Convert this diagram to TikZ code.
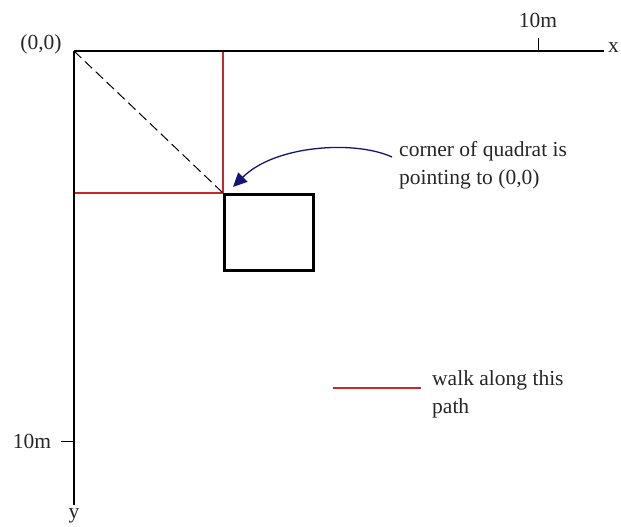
\documentclass[tikz,border=0pt]{standalone}
\usepackage{fontspec}
\setmainfont{Liberation Serif}
\usetikzlibrary{arrows.meta}
\definecolor{walkred}{RGB}{200,40,40}
\definecolor{arrownavy}{RGB}{20,20,120}
\begin{document}
\begin{tikzpicture}[x=1pt,y=-1pt,
  lbl/.style={font=\fontsize{21.5}{28}\selectfont, inner sep=1pt, text=black!85},
  axis/.style={draw=black, line width=1.3pt},
  walk/.style={draw=walkred, line width=1.1pt},
  quad/.style={draw=black, line width=2.6pt},
  diag/.style={draw=black, line width=1pt, dash pattern=on 10pt off 5pt},
  pointer/.style={draw=arrownavy, line width=1.3pt, -{Triangle[length=14pt,width=13pt]}}]
\useasboundingbox (0,0) rectangle (621,527);
% key points
\coordinate (O) at (74,51);
\coordinate (xend) at (604,51);
\coordinate (yend) at (74,505);
\coordinate (C) at (223,193);
\coordinate (Cx) at (223,51);
\coordinate (Cy) at (74,193);
\coordinate (xt1) at (538,38);
\coordinate (xt2) at (538,51);
\coordinate (yt1) at (61,441);
\coordinate (yt2) at (74,441);
\coordinate (arrstart) at (392,157);
\coordinate (arrtip) at (233,187);
\coordinate (leg1) at (333,388);
\coordinate (leg2) at (421,388);
% walk path
\draw[walk] (Cx) -- (C) -- (Cy);
% diagonal
\draw[diag] (O) -- (C);
% axes
\draw[axis] (O) -- (xend);
\draw[axis] (O) -- (yend);
\draw[axis, line width=1pt] (xt1) -- (xt2);
\draw[axis, line width=1pt] (yt1) -- (yt2);
% quadrat
\node[quad, minimum width=89pt, minimum height=76pt, anchor=north west, inner sep=0pt] (quadrat) at (C) {};
% labels
\node[lbl] (origin) at (41,44) {(0,0)};
\node[lbl, anchor=west] (xlab) at (607,48) {x};
\node[lbl] (ylab) at (74,516) {y};
\node[lbl] (xten) at (538,20) {10m};
\node[lbl] (yten) at (32,441) {10m};
\node[lbl, anchor=west, align=left] (note) at (398,165) {corner of quadrat is\\pointing to (0,0)};
\node[lbl, anchor=west, align=left] (legtext) at (431,394) {walk along this\\path};
% pointer arrow
\draw[pointer] (arrstart) .. controls (355,140) and (275,145) .. (arrtip);
% legend line
\draw[walk] (leg1) -- (leg2);
\end{tikzpicture}
\end{document}
